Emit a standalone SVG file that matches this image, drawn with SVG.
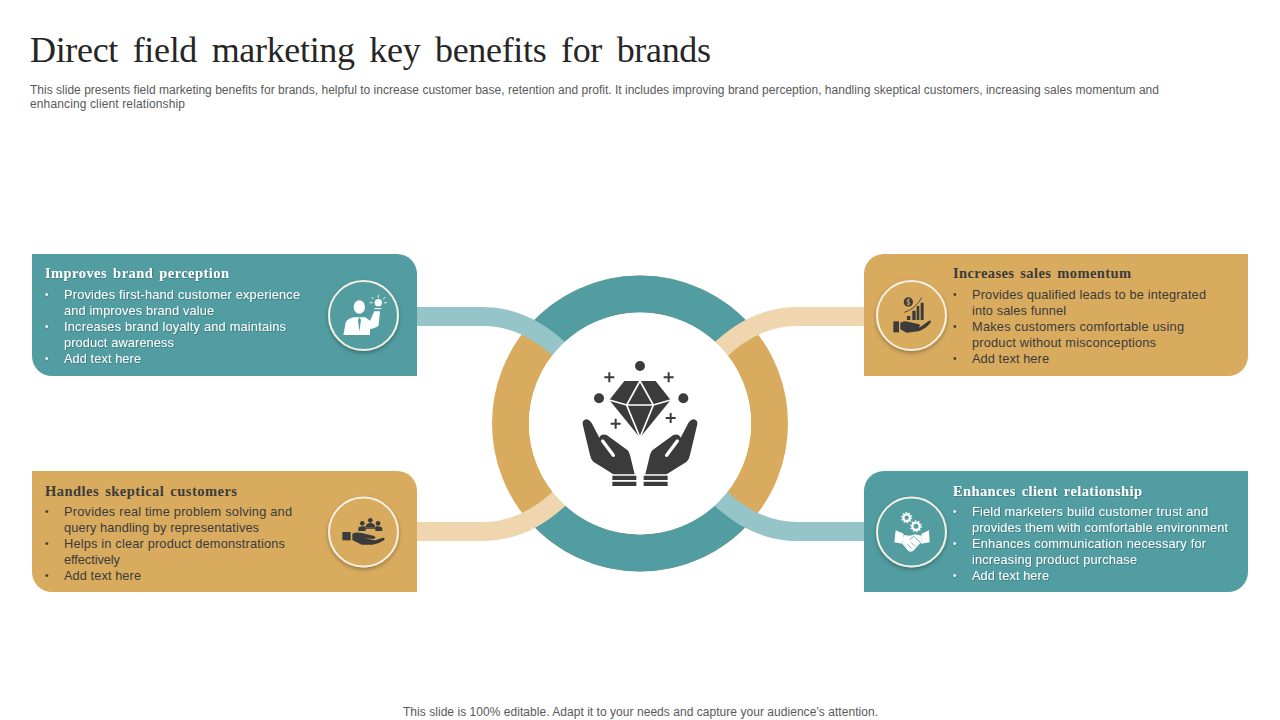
<svg xmlns="http://www.w3.org/2000/svg" width="1280" height="720" viewBox="0 0 1280 720">
<style>
text{font-family:"Liberation Sans",Arial,sans-serif}
.title{font-family:"Liberation Serif","Times New Roman",serif;font-size:36px;fill:#262626;word-spacing:6px}
.sub{font-size:12px;fill:#595959}
.head{font-family:"Liberation Serif","Times New Roman",serif;font-size:14.5px;font-weight:bold;word-spacing:2px}
.body{font-size:12.8px}
.bu{font-size:10px}
.lt{fill:#fff}
.dk{fill:#3b3b3b}
.teal{fill:#529DA1}
.gold{fill:#D9AB5F}
.ring{fill:none;stroke-width:37}
.band{fill:none;stroke-width:19}
.badge{stroke:#F3F1E4;stroke-width:2}
.ink{fill:#3b3b3b}
.paper{fill:#fff}
</style>
<defs>
<filter id="sh" x="-30%" y="-30%" width="160%" height="160%"><feDropShadow dx="0" dy="2" stdDeviation="2" flood-color="#000" flood-opacity="0.3"/></filter>
<filter id="ts" x="-5%" y="-20%" width="110%" height="150%"><feDropShadow dx="0.6" dy="0.6" stdDeviation="0.4" flood-color="#000" flood-opacity="0.35"/></filter>
</defs>
<rect width="1280" height="720" fill="#fff"/>
<text class="title" x="30" y="62" textLength="681">Direct field marketing key benefits for brands</text>
<text class="sub" x="30" y="94" textLength="1129">This slide presents field marketing benefits for brands, helpful to increase customer base, retention and profit. It includes improving brand perception, handling skeptical customers, increasing sales momentum and</text>
<text class="sub" x="30" y="108" textLength="155">enhancing client relationship</text>
<text class="sub" x="403" y="716" textLength="475">This slide is 100% editable. Adapt it to your needs and capture your audience’s attention.</text>

<g id="connectors">
<circle class="ring" cx="640" cy="423.500" r="129.500" stroke="#D9AB5F"/>
<path class="ring" stroke="#529DA1" d="M543.8 336.800A129.500 129.500 0 0 1 736.2 336.800"/>
<path class="ring" stroke="#529DA1" d="M543.8 510.200A129.500 129.500 0 0 0 736.2 510.200"/>
<path class="band" stroke="#95C5C8" d="M417 316.500H483C510 316.500 538 328 564 354"/>
<path class="band" stroke="#EFD6AE" d="M864 316.500H797C770 316.500 742 328 716 354"/>
<path class="band" stroke="#EFD6AE" d="M417 531.500H483C510 531.500 538 520 564 494"/>
<path class="band" stroke="#95C5C8" d="M864 531.500H797C770 531.500 742 520 716 494"/>
</g>

<g id="center">
<circle cx="640" cy="423.500" r="111" fill="#fff"/>
<g transform="translate(560 345) scale(.3333)">
<g class="ink">
<circle cx="240" cy="63" r="15"/><circle cx="117" cy="160" r="15"/><circle cx="370" cy="160" r="15"/>
<path d="M193 108H287L332 165L240 278L148 165Z"/>
</g>
<g fill="none" stroke="#fff" stroke-width="5">
<path d="M148 165L200 180H280L332 165M240 108L200 180L240 278L280 180L240 108"/>
</g>
<g stroke="#3b3b3b" stroke-width="6" fill="none">
<path d="M133 97H163M148 82V112M311 97H341M326 82V112M152 236H182M167 221V251M317 219H347M332 204V234"/>
</g>
<g id="hand">
<path class="ink" d="M68 238Q66 224 80 223Q90 224 97 238L118 278Q124 264 140 270L203 316Q208 322 210 330L224 388H160L100 350Q92 342 90 330Z"/>
<path d="M128 288L160 331" stroke="#fff" stroke-width="10" stroke-linecap="round" fill="none"/>
<path class="ink" d="M157 392H229V405H157ZM157 410H229V423H157Z"/>
</g>
<use href="#hand" transform="matrix(-1 0 0 1 480 0)"/>
</g>
</g>

<g id="card-improves">
<path class="teal" d="M32 254H397A20 20 0 0 1 417 274V376H52A20 20 0 0 1 32 356Z"/>
<text class="head lt" x="45" y="278" textLength="184" filter="url(#ts)">Improves brand perception</text>
<g class="body lt" filter="url(#ts)">
<text class="bu" x="45" y="298">•</text><text x="64" y="299" textLength="236">Provides first-hand customer experience</text>
<text x="64" y="315" textLength="150">and improves brand value</text>
<text class="bu" x="45" y="330">•</text><text x="64" y="331" textLength="222">Increases brand loyalty and maintains</text>
<text x="64" y="347" textLength="110">product awareness</text>
<text class="bu" x="45" y="362">•</text><text x="64" y="363" textLength="77">Add text here</text>
</g>
<circle class="teal badge" cx="363.500" cy="315.500" r="34.500" filter="url(#sh)"/>
<g transform="translate(320 270) scale(.3333)">
<ellipse class="paper" cx="118" cy="111" rx="17" ry="20"/>
<path class="paper" d="M70 195L77 158Q80 148 100 142H136L150 152L163 124H180L176 165Q174 172 150 178V195Z"/>
<path d="M118 142L114 150L118 185L123 150Z" fill="#529DA1"/>
<circle class="paper" cx="175" cy="98" r="11"/>
<path d="M163 116H184" stroke="#fff" stroke-width="3"/>
<path d="M175 76V83M155 82L160 87M195 82L190 87M150 98H157M193 98H200" stroke="#fff" stroke-width="2.500" stroke-linecap="round"/>
</g>
</g>

<g id="card-handles">
<path class="gold" d="M32 471H397A20 20 0 0 1 417 491V592H52A20 20 0 0 1 32 572Z"/>
<text class="head dk" x="45" y="496" textLength="192">Handles skeptical customers</text>
<g class="body dk">
<text class="bu" x="45" y="515">•</text><text x="64" y="516" textLength="228">Provides real time problem solving and</text>
<text x="64" y="532" textLength="195">query handling by representatives</text>
<text class="bu" x="45" y="547">•</text><text x="64" y="548" textLength="221">Helps in clear product demonstrations</text>
<text x="64" y="564" textLength="56">effectively</text>
<text class="bu" x="45" y="579">•</text><text x="64" y="580" textLength="77">Add text here</text>
</g>
<circle class="gold badge" cx="363.500" cy="532" r="34.500" filter="url(#sh)"/>
<g class="ink" transform="translate(320 485) scale(.3333)">
<circle cx="151" cy="106" r="7"/><circle cx="127" cy="115" r="7"/><circle cx="174" cy="115" r="7"/>
<path d="M136 128Q138 114 151 114Q165 114 166 128Z"/>
<path d="M115 138V128Q118 122 134 124L138 130H164L168 124Q184 122 187 130V138H166V132H137V138Z"/>
<path d="M67 141H92V166H67Z"/>
<path d="M97 146Q110 140 125 144L160 152Q172 156 162 162L132 160L165 166L188 158Q198 158 192 166Q178 176 158 179H125L97 165Z"/>
</g>
</g>

<g id="card-increases">
<path class="gold" d="M884 254H1248V356A20 20 0 0 1 1228 376H864V274A20 20 0 0 1 884 254Z"/>
<text class="head dk" x="953" y="278" textLength="178">Increases sales momentum</text>
<g class="body dk">
<text class="bu" x="953" y="298">•</text><text x="972" y="299" textLength="234">Provides qualified leads to be integrated</text>
<text x="972" y="315" textLength="94">into sales funnel</text>
<text class="bu" x="953" y="330">•</text><text x="972" y="331" textLength="212">Makes customers comfortable using</text>
<text x="972" y="347" textLength="184">product without misconceptions</text>
<text class="bu" x="953" y="362">•</text><text x="972" y="363" textLength="77">Add text here</text>
</g>
<circle class="gold badge" cx="911.500" cy="315.500" r="34.500" filter="url(#sh)"/>
<g transform="translate(865 270) scale(.3333)">
<g class="ink">
<circle cx="130" cy="96" r="14"/>
<path d="M126 138H136V150H126ZM142 122H152V150H142ZM155 108H163V150H155ZM167 98H176V150H167Z"/>
<path d="M85 154H102V187H85Z"/>
<path d="M106 158Q118 150 132 156L160 162Q172 166 160 172L135 170L165 172L192 152Q200 150 197 158Q180 178 160 184L125 188L106 178Z"/>
</g>
<path d="M118 127Q150 118 171 82" fill="none" stroke="#3b3b3b" stroke-width="2.500"/>
<path d="M135 90Q127 86 125 93Q126 96 130 96Q136 97 135 101Q132 106 125 102M130 85V107" fill="none" stroke="#D9AB5F" stroke-width="2.500"/>
</g>
</g>

<g id="card-enhances">
<path class="teal" d="M884 471H1248V572A20 20 0 0 1 1228 592H864V491A20 20 0 0 1 884 471Z"/>
<text class="head lt" x="953" y="496" textLength="189" filter="url(#ts)">Enhances client relationship</text>
<g class="body lt" filter="url(#ts)">
<text class="bu" x="953" y="515">•</text><text x="972" y="516" textLength="236">Field marketers build customer trust and</text>
<text x="972" y="532" textLength="256">provides them with comfortable environment</text>
<text class="bu" x="953" y="547">•</text><text x="972" y="548" textLength="234">Enhances communication necessary for</text>
<text x="972" y="564" textLength="165">increasing product purchase</text>
<text class="bu" x="953" y="579">•</text><text x="972" y="580" textLength="77">Add text here</text>
</g>
<circle class="teal badge" cx="911.500" cy="532" r="34.500" filter="url(#sh)"/>
<g transform="translate(865 485) scale(.3333)">
<g fill="none" stroke="#fff">
<circle cx="125" cy="98" r="10" stroke-width="7"/>
<circle cx="125" cy="98" r="15" stroke-width="4" stroke-dasharray="4 5.400"/>
<circle cx="153" cy="124" r="11" stroke-width="7"/>
<circle cx="153" cy="124" r="16" stroke-width="4" stroke-dasharray="4 6"/>
</g>
<path class="paper" d="M92 136L116 146L112 176L88 172ZM170 146L192 136L194 172L168 176Z"/>
<path class="paper" d="M116 150L135 152L150 148L170 152L168 172L150 192Q142 204 130 198L112 176Z"/>
<path d="M134 164L146 154L166 172M140 190L128 178M150 184L138 172" fill="none" stroke="#529DA1" stroke-width="2.500"/>
</g>
</g>
</svg>
